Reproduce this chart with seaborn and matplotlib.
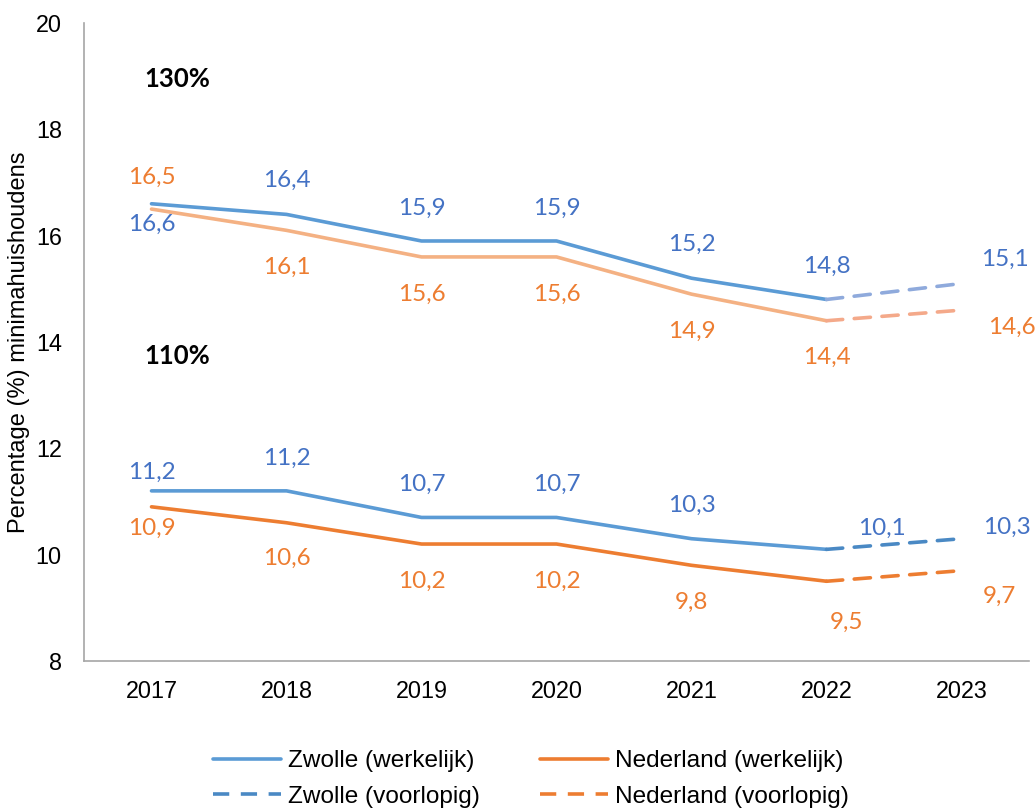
import matplotlib
matplotlib.use("Agg")
import matplotlib.pyplot as plt
from matplotlib.lines import Line2D
import seaborn as sns
import pandas as pd

years = ["2017", "2018", "2019", "2020", "2021", "2022", "2023"]
zwolle_130 = [16.6, 16.4, 15.9, 15.9, 15.2, 14.8, 15.1]
nl_130 = [16.5, 16.1, 15.6, 15.6, 14.9, 14.4, 14.6]
zwolle_110 = [11.2, 11.2, 10.7, 10.7, 10.3, 10.1, 10.3]
nl_110 = [10.9, 10.6, 10.2, 10.2, 9.8, 9.5, 9.7]
n_actual = 6  # 2017-2022 werkelijk, 2022-2023 voorlopig
group_labels = ["130%", "110%"]
legend_labels = ["Zwolle (werkelijk)", "Zwolle (voorlopig)",
                 "Nederland (werkelijk)", "Nederland (voorlopig)"]

sns.set_theme(style="white")
plt.rcParams["font.family"] = ["Liberation Sans", "DejaVu Sans"]
plt.rcParams["text.color"] = "black"
plt.rcParams["axes.labelcolor"] = "black"

fig = plt.figure(figsize=(10.36, 8.11), dpi=100)
ax = fig.add_axes([84/1036, (811-661)/811, 945/1036, (661-23)/811])

BLUE_LBL = "#4472C4"
ORANGE_LBL = "#ED7D31"

# series: values, solid colour, dashed colour, label colour, label offsets (px) per point
series = [
    (zwolle_130, "#5B9BD5", "#8FAADC", BLUE_LBL,
     [(0, 21), (0, -34), (0, -33), (0, -33), (0, -34), (0, -33), (43, -24)]),
    (nl_130, "#F4B183", "#F4A98A", ORANGE_LBL,
     [(0, -32), (0, 37), (0, 37), (0, 37), (0, 37), (0, 37), (50, 17)]),
    (zwolle_110, "#5B9BD5", "#4A89C4", BLUE_LBL,
     [(0, -19), (0, -33), (0, -33), (0, -33), (0, -33), (55, -21), (45, -11)]),
    (nl_110, "#ED7D31", "#ED7D31", ORANGE_LBL,
     [(0, 22), (0, 36), (0, 37), (0, 37), (0, 37), (20, 41), (38, 26)]),
]

xpos = list(range(len(years)))
px2pt = 72 / fig.dpi
for vals, c_solid, c_dash, c_lbl, offs in series:
    df_a = pd.DataFrame({"x": xpos[:n_actual], "y": vals[:n_actual]})
    df_p = pd.DataFrame({"x": xpos[n_actual-1:], "y": vals[n_actual-1:]})
    sns.lineplot(data=df_a, x="x", y="y", ax=ax, color=c_solid, linewidth=2.6,
                 solid_capstyle="round")
    sns.lineplot(data=df_p, x="x", y="y", ax=ax, color=c_dash, linewidth=2.6,
                 linestyle=(0, (4.5, 3.2)), dash_capstyle="round")
    for x, v, (dx, dy) in zip(xpos, vals, offs):
        ax.annotate(f"{v:.1f}".replace(".", ","), (x, v),
                    xytext=(dx * px2pt, -dy * px2pt), textcoords="offset points",
                    ha="center", va="center", color=c_lbl, fontsize=17.5,
                    family=["Lato", "DejaVu Sans"])

ax.text(-0.05, 18.95, group_labels[0], fontsize=18.5, fontweight="bold",
        family=["Lato", "DejaVu Sans"], ha="left", va="center", color="black")
ax.text(-0.05, 13.73, group_labels[1], fontsize=18.5, fontweight="bold",
        family=["Lato", "DejaVu Sans"], ha="left", va="center", color="black")

ax.set_xlim(-0.5, len(years) - 0.5)
ax.set_ylim(8, 20)
ax.set_yticks(range(8, 21, 2))
ax.set_xticks(xpos)
ax.set_xticklabels(years)
ax.tick_params(axis="both", length=0, labelsize=16.8, colors="black")
ax.tick_params(axis="y", pad=16)
ax.tick_params(axis="x", pad=14)
ax.set_xlabel("")
ax.set_ylabel("Percentage (%) minimahuishoudens", fontsize=17, labelpad=4,
              color="black")
for s in ["top", "right"]:
    ax.spines[s].set_visible(False)
for s in ["left", "bottom"]:
    ax.spines[s].set_color("#A6A6A6")
    ax.spines[s].set_linewidth(1.2)

handles = [
    Line2D([], [], color="#5B9BD5", lw=2.6),
    Line2D([], [], color="#4A89C4", lw=2.6, linestyle=(0, (4.5, 3.2))),
    Line2D([], [], color="#ED7D31", lw=2.6),
    Line2D([], [], color="#ED7D31", lw=2.6, linestyle=(0, (4.5, 3.2))),
]
fig.legend(handles, legend_labels, ncol=2, loc="center",
           bbox_to_anchor=(531/1036, (811-779)/811), frameon=False,
           fontsize=17.6, handlelength=2.8, handletextpad=0.29,
           columnspacing=2.45, labelspacing=0.56, labelcolor="black")

fig.savefig("out.png", dpi=100)
